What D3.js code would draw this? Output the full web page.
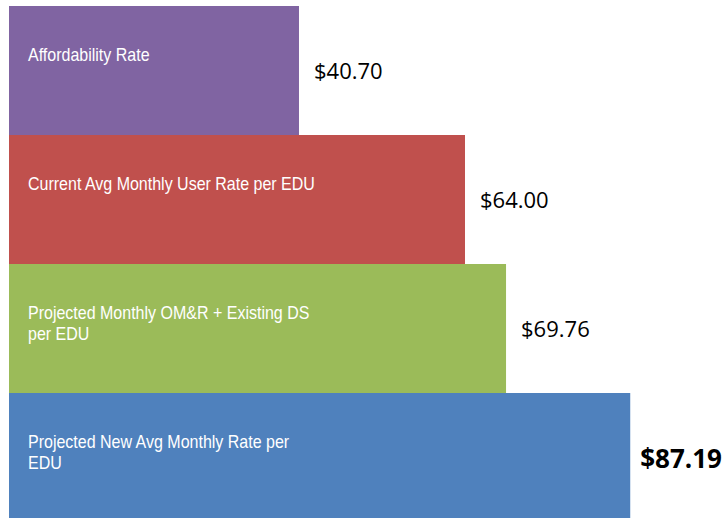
<!DOCTYPE html>
<html>
<head>
<meta charset="utf-8">
<script src="https://cdn.jsdelivr.net/npm/d3@7"></script>
<style>
  body { margin: 0; background: #fff; }
  svg { display: block; }
</style>
</head>
<body>
<svg id="chart"></svg>
<script>
// chart data
var categories = [
  "Affordability Rate",
  "Current Avg Monthly User Rate per EDU",
  "Projected Monthly OM&R + Existing DS per EDU",
  "Projected New Avg Monthly Rate per EDU"
];
// how the label breaks inside each bar
var labelLines = [
  ["Affordability Rate"],
  ["Current Avg Monthly User Rate per EDU"],
  ["Projected Monthly OM&R + Existing DS", "per EDU"],
  ["Projected New Avg Monthly Rate per", "EDU"]
];
var values = [40.70, 64.00, 69.76, 87.19];
var colors = ["#8064A2", "#C0504D", "#9BBB59", "#4F81BD"];

var width = 725,
  height = 518;

var svg = d3.select("#chart").attr("width", width).attr("height", height);

// x: dollars to pixels, starts at the left edge of the bars
var x = d3.scaleLinear().domain([0, 100]).range([9, 721.5]);

// y: one band per bar, no gaps, last one runs off the bottom
var y = d3.scaleBand().domain(categories).range([6, 522]).padding(0);

var data = categories.map(function (c, i) {
  return { name: c, value: values[i], color: colors[i], lines: labelLines[i], last: i === categories.length - 1 };
});

svg
  .selectAll("rect.bar")
  .data(data)
  .join("rect")
  .attr("class", "bar")
  .attr("x", x(0))
  .attr("y", function (d) { return y(d.name); })
  .attr("width", function (d) { return x(d.value) - x(0); })
  .attr("height", y.bandwidth())
  .attr("fill", function (d) { return d.color; });

// labels inside the bars (no narrow font here, so squeeze it a bit)
var inner = svg
  .selectAll("text.inner")
  .data(data)
  .join("text")
  .attr("class", "inner")
  .attr("transform", function (d) {
    return "translate(" + (x(0) + 19) + "," + (y(d.name) + 55) + ") scale(0.89,1)";
  })
  .attr("fill", "#fff")
  .style("font-family", "'Liberation Sans', Arial, sans-serif")
  .style("font-size", "18px");

inner
  .selectAll("tspan")
  .data(function (d) { return d.lines; })
  .join("tspan")
  .attr("x", 0)
  .attr("dy", function (d, i) { return i === 0 ? 0 : 21; })
  .text(function (d) { return d; });

// value labels to the right of the bars
svg
  .selectAll("text.value")
  .data(data)
  .join("text")
  .attr("class", "value")
  .attr("x", function (d) { return x(d.value) + (d.last ? 10 : 15); })
  .attr("y", function (d) { return y(d.name) + y.bandwidth() / 2 + 1; })
  .attr("dy", "0.35em")
  .attr("fill", "#000")
  .style("font-family", "'Open Sans', sans-serif")
  .style("font-size", function (d) { return d.last ? "26px" : "22px"; })
  .style("font-weight", function (d) { return d.last ? "bold" : "normal"; })
  .text(function (d) { return "$" + d3.format(".2f")(d.value); });
</script>
</body>
</html>
